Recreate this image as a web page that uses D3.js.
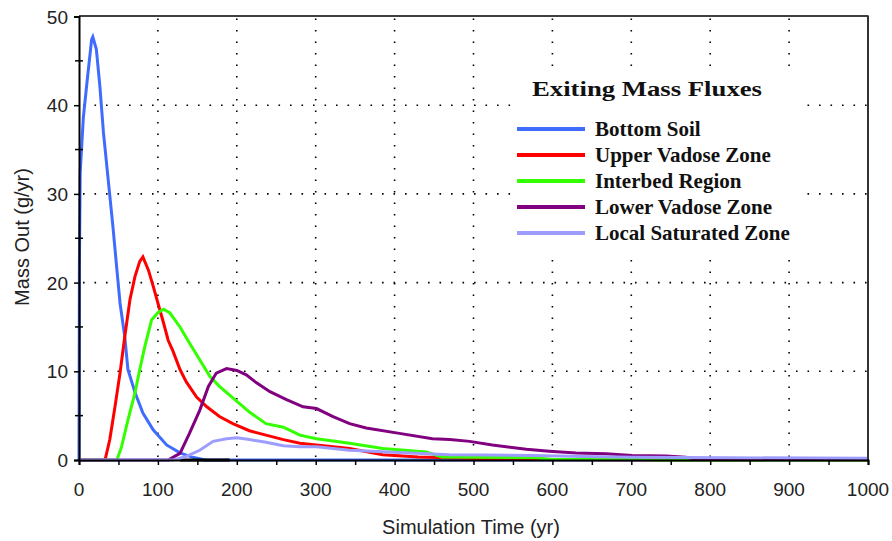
<!DOCTYPE html>
<html><head><meta charset="utf-8">
<script src="https://cdn.jsdelivr.net/npm/d3@7/dist/d3.min.js"></script>
<style>body{margin:0;background:#fff}svg{display:block}</style>
</head><body>
<svg id="chart" width="892" height="541"></svg>
<script>
// ---- data ----
const seriesNames = ["Bottom Soil","Upper Vadose Zone","Interbed Region","Lower Vadose Zone","Local Saturated Zone"];
const seriesColors = ["#3f6cff","#ff0000","#33ff00","#800080","#9d9dff"];

const bottomSoilT = [0,0.5,1.5,5.5,10.5,16,17.5,22,26.5,31,37,43,48,52,58,62,71,81,94,111,128,144,160,1000];
const bottomSoilV = [0,22,32.4,38.6,42.9,47.4,47.7,46.3,42.1,36.9,31.6,26.3,21.5,17.7,13.9,10.2,7.6,5.3,3.4,1.7,0.8,0.3,0,0];

const upperVadoseT = [0,33,39,45.6,52,58,64.6,71,77,81,88,94,100,107,113,119,128,136,149,162,178,195,216,237,259,280,301,343,385,430,520,530,1000];
const upperVadoseV = [0,0,2.3,6.0,9.8,13.9,18.1,20.7,22.4,22.9,21.4,19.6,17.7,15.5,13.5,12.3,10.2,8.8,7.1,6.0,4.9,4.1,3.3,2.8,2.3,1.9,1.7,1.3,0.6,0.35,0.15,0.05,0];

const interbedT = [0,48,54,62,71,77,83.5,92,100,107,115,128,140,153,166,178,195,216,237,259,280,301,343,385,440,460,580,600,720,730,1000];
const interbedV = [0,0,1.5,4.5,7.6,10.2,12.8,15.8,16.6,17.0,16.6,15.0,13.2,11.3,9.4,8.3,7.0,5.4,4.1,3.7,2.8,2.4,1.9,1.3,0.9,0.35,0.25,0.05,0.05,0,0];

const lowerVadoseT = [0,113,128,140,153,164,174,187,200,212,225,242,263,284,301,322,343,364,406,448,470,495,524,567,596,630,668,701,744,769,780,1000];
const lowerVadoseV = [0,0,0.75,3.0,5.6,8.3,9.8,10.3,10.1,9.6,8.7,7.7,6.8,6.0,5.8,4.9,4.1,3.6,3.0,2.4,2.3,2.1,1.7,1.2,1.0,0.8,0.7,0.5,0.45,0.3,0.15,0.15];

const localSatT = [0,120,136,153,170,187,200,216,237,259,280,301,343,385,427,469,512,575,638,702,765,1000];
const localSatV = [0,0,0.4,1.1,2.1,2.4,2.5,2.3,2.0,1.6,1.5,1.5,1.1,0.94,0.75,0.6,0.56,0.5,0.4,0.3,0.27,0.2];

const extraT = [128,191];   // short black trace on the baseline
const extraV = [0,0];

const xTickLabels = [0,100,200,300,400,500,600,700,800,900,1000];
const yTickLabels = [0,10,20,30,40,50];
const legendTitle = "Exiting Mass Fluxes";
const xTitle = "Simulation Time (yr)";
const yTitle = "Mass Out (g/yr)";

// ---- layout ----
const svg = d3.select("#chart");
const L = 79, R = 868, T = 16.5, B = 460;
const x = d3.scaleLinear().domain([0,1000]).range([L,R]);
const y = d3.scaleLinear().domain([0,50]).range([B,T]);

// grid (dotted)
const grid = svg.append("g");
grid.selectAll("line.vg").data(xTickLabels.filter(d=>d>0&&d<1000)).join("line")
  .attr("x1",d=>x(d)).attr("x2",d=>x(d)).attr("y1",T).attr("y2",B)
  .attr("stroke","#000").attr("stroke-width",1.6).attr("stroke-dasharray","1.6,9.9").attr("stroke-dashoffset",-2);
grid.selectAll("line.hg").data(yTickLabels.filter(d=>d>0&&d<50)).join("line")
  .attr("x1",L).attr("x2",R).attr("y1",d=>y(d)).attr("y2",d=>y(d))
  .attr("stroke","#000").attr("stroke-width",1.6).attr("stroke-dasharray","1.6,9.9").attr("stroke-dashoffset",-4);

// legend background masks the grid
svg.append("rect").attr("x",515).attr("y",66).attr("width",290).attr("height",188).attr("fill","#fff");

// curves
const series = [
  {t:bottomSoilT, v:bottomSoilV, c:seriesColors[0]},
  {t:extraT, v:extraV, c:"#000"},
  {t:upperVadoseT, v:upperVadoseV, c:seriesColors[1]},
  {t:interbedT, v:interbedV, c:seriesColors[2]},
  {t:lowerVadoseT, v:lowerVadoseV, c:seriesColors[3]},
  {t:localSatT, v:localSatV, c:seriesColors[4]}
];
const line = d3.line().x(d=>x(d[0])).y(d=>y(d[1]));
svg.append("g").selectAll("path").data(series).join("path")
  .attr("d",s=>line(s.t.map((t,i)=>[t,s.v[i]])))
  .attr("fill","none").attr("stroke",s=>s.c).attr("stroke-width",3)
  .attr("stroke-linejoin","miter");

// frame
svg.append("line").attr("x1",L).attr("x2",R).attr("y1",T-0.5).attr("y2",T-0.5).attr("stroke","#000").attr("stroke-width",1.5);
svg.append("line").attr("x1",R).attr("x2",R).attr("y1",T-1).attr("y2",B).attr("stroke","#333").attr("stroke-width",2);

// axes
const xAxis = d3.axisBottom(x).tickValues(d3.range(0,1001,50)).tickSize(5).tickFormat("");
const gx = svg.append("g").attr("transform",`translate(0,${B})`).call(xAxis);
gx.select(".domain").attr("stroke","#000").attr("stroke-width",2);
gx.selectAll(".tick line").attr("stroke","#000").attr("stroke-width",1.5);
gx.selectAll("text.lbl").data(xTickLabels).join("text").attr("class","lbl")
  .attr("x",d=>x(d)).attr("y",36).attr("text-anchor","middle")
  .attr("font-family","Liberation Sans, Arial, sans-serif").attr("font-size",19).attr("fill","#222").text(d=>d);

const yAxis = d3.axisLeft(y).tickValues(yTickLabels).tickSize(5).tickFormat("");
const gy = svg.append("g").attr("transform",`translate(${L},0)`).call(yAxis);
gy.select(".domain").attr("stroke","#000").attr("stroke-width",2);
gy.selectAll(".tick line").attr("stroke","#000").attr("stroke-width",1.5);
gy.selectAll("text.lbl").data(yTickLabels).join("text").attr("class","lbl")
  .attr("x",-11).attr("y",d=>y(d)+7).attr("text-anchor","end")
  .attr("font-family","Liberation Sans, Arial, sans-serif").attr("font-size",19).attr("fill","#222").text(d=>d);
// minor y ticks
gy.selectAll("line.minor").data(d3.range(5,50,10)).join("line").attr("class","minor")
  .attr("x1",-4).attr("x2",4).attr("y1",d=>y(d)).attr("y2",d=>y(d)).attr("stroke","#000").attr("stroke-width",1.5);

// axis titles
svg.append("text").attr("x",471).attr("y",534).attr("text-anchor","middle")
  .attr("font-family","Liberation Sans, Arial, sans-serif").attr("font-size",20).attr("fill","#222").text(xTitle);
svg.append("text").attr("transform","translate(29,237) rotate(-90)").attr("text-anchor","middle")
  .attr("font-family","Liberation Sans, Arial, sans-serif").attr("font-size",20).attr("fill","#222").text(yTitle);

// legend
const lg = svg.append("g");
lg.append("text").attr("x",532).attr("y",96).attr("font-family","Liberation Serif, Times New Roman, serif")
  .attr("font-weight","bold").attr("font-size",22).attr("textLength",230).attr("lengthAdjust","spacingAndGlyphs")
  .attr("fill","#111").text(legendTitle);
const items = lg.selectAll("g.it").data(seriesNames).join("g").attr("class","it")
  .attr("transform",(d,i)=>`translate(0,${129+i*26})`);
items.append("line").attr("x1",517).attr("x2",585).attr("y1",0).attr("y2",0)
  .attr("stroke",(d,i)=>seriesColors[i]).attr("stroke-width",4);
items.append("text").attr("x",595).attr("y",7).attr("font-family","Liberation Serif, Times New Roman, serif")
  .attr("font-weight","bold").attr("font-size",21).attr("fill","#111").text(d=>d);
</script>
</body></html>
